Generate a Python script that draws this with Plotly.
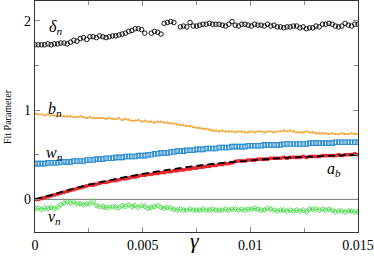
import numpy as np
import plotly.graph_objects as go

# gamma grid (101 samples from 0 to 0.015)
gamma = np.linspace(0, 0.015, 101)

delta_n = [1.73,1.73,1.73,1.73,1.74,1.73,1.74,1.74,1.75,1.75,
           1.74,1.76,1.78,1.77,1.80,1.81,1.79,1.82,1.82,1.81,
           1.83,1.82,1.81,1.82,1.83,1.83,1.84,1.85,1.86,1.88,
           1.89,1.91,1.91,1.90,1.86,None,1.86,1.88,1.87,1.85,
           1.97,1.98,1.99,1.98,None,1.93,1.94,1.93,1.98,1.94,
           1.94,1.95,1.96,1.96,1.97,1.96,1.96,1.96,1.95,1.94,
           1.96,1.99,1.95,1.94,1.96,1.96,1.95,1.94,1.96,1.95,
           1.95,1.94,1.96,1.94,1.95,1.93,1.93,1.92,1.93,1.93,
           1.94,1.94,1.92,1.93,1.91,1.92,1.92,1.94,1.93,1.96,
           1.96,1.97,1.96,1.94,1.93,1.94,1.97,1.95,1.94,1.96,
           1.96]

b_n = [0.96,0.95,0.95,0.94,0.95,0.94,0.94,0.93,0.94,0.93,
       0.93,0.93,0.92,0.92,0.93,0.92,0.91,0.92,0.91,0.91,
       0.91,0.91,0.90,0.91,0.90,0.90,0.91,0.89,0.90,0.89,
       0.88,0.88,0.89,0.87,0.88,0.87,0.87,0.86,0.87,0.87,
       0.86,0.86,0.85,0.85,0.84,0.83,0.83,0.82,0.82,0.81,
       0.80,0.80,0.79,0.79,0.78,0.77,0.77,0.76,0.77,0.76,
       0.76,0.76,0.75,0.76,0.76,0.75,0.75,0.76,0.75,0.76,
       0.76,0.75,0.76,0.76,0.75,0.76,0.76,0.77,0.76,0.77,
       0.76,0.75,0.75,0.75,0.76,0.75,0.75,0.74,0.74,0.74,
       0.74,0.73,0.74,0.73,0.73,0.74,0.73,0.73,0.74,0.73,
       0.73]

w_n = [0.40,0.40,0.40,0.40,0.41,0.41,0.41,0.41,0.42,0.42,
       0.42,0.42,0.43,0.43,0.43,0.43,0.44,0.44,0.44,0.45,
       0.45,0.45,0.46,0.46,0.46,0.47,0.47,0.47,0.48,0.48,
       0.48,0.48,0.49,0.49,0.49,0.50,0.50,0.51,0.51,0.52,
       0.52,0.52,0.53,0.53,0.54,0.54,0.54,0.55,0.55,0.55,
       0.56,0.56,0.56,0.57,0.57,0.57,0.57,0.58,0.58,0.58,
       0.58,0.59,0.59,0.59,0.59,0.59,0.60,0.60,0.60,0.60,
       0.60,0.61,0.61,0.61,0.61,0.61,0.61,0.62,0.62,0.62,
       0.62,0.62,0.62,0.62,0.62,0.63,0.63,0.63,0.63,0.63,
       0.63,0.63,0.63,0.64,0.64,0.64,0.64,0.64,0.64,0.64,
       0.64]

a_b = [0.00,0.00,0.01,0.02,0.03,0.04,0.05,0.06,0.07,0.08,
       0.09,0.10,0.11,0.12,0.13,0.14,0.15,0.16,0.16,0.17,
       0.18,0.19,0.19,0.20,0.21,0.21,0.22,0.23,0.23,0.24,
       0.25,0.25,0.26,0.27,0.27,0.28,0.28,0.29,0.29,0.30,
       0.30,0.31,0.31,0.32,0.32,0.33,0.33,0.34,0.34,0.35,
       0.35,0.36,0.36,0.37,0.37,0.38,0.38,0.39,0.39,0.40,
       0.40,0.41,0.425,0.43,0.43,0.43,0.44,0.44,0.44,0.45,
       0.45,0.45,0.45,0.46,0.46,0.46,0.46,0.47,0.46,0.47,
       0.47,0.47,0.47,0.48,0.47,0.48,0.48,0.48,0.48,0.49,
       0.49,0.49,0.49,0.49,0.50,0.49,0.50,0.50,0.50,0.51,
       0.50]

nu_n = [-0.10,-0.10,-0.11,-0.10,-0.10,-0.09,-0.10,-0.09,-0.06,-0.04,
        -0.03,-0.04,-0.03,-0.05,-0.05,-0.06,-0.05,-0.05,-0.02,-0.07,
        -0.08,-0.08,-0.09,-0.09,-0.08,-0.09,-0.09,-0.07,-0.08,-0.06,
        -0.08,-0.07,-0.09,-0.07,-0.08,-0.10,-0.09,-0.08,-0.07,-0.09,
        -0.10,-0.09,-0.10,-0.11,-0.12,-0.11,-0.12,-0.12,-0.11,-0.12,
        -0.12,-0.12,-0.11,-0.12,-0.12,-0.11,-0.12,-0.12,-0.12,-0.11,
        -0.12,-0.11,-0.11,-0.12,-0.11,-0.12,-0.11,-0.11,-0.10,-0.11,
        -0.12,-0.12,-0.10,-0.11,-0.12,-0.13,-0.12,-0.12,-0.13,-0.12,
        -0.13,-0.12,-0.13,-0.12,-0.14,-0.11,-0.11,-0.11,-0.12,-0.11,
        -0.12,-0.11,-0.12,-0.14,-0.13,-0.13,-0.14,-0.13,-0.13,-0.14,
        -0.14]

# smooth fit of a_b (dashed)
fit_x = [0.0,0.001,0.002,0.003,0.004,0.005,0.006,0.007,0.008,0.009,0.010,0.011,0.012,0.013,0.014,0.015]
fit_y = [0.0,0.065,0.135,0.19,0.24,0.285,0.325,0.36,0.39,0.415,0.435,0.455,0.47,0.48,0.49,0.50]

x_tickvals = [0, 0.005, 0.01, 0.015]
x_ticktext = ["0", "0.005", "0.01", "0.015"]
y_tickvals = [0, 1, 2]
y_ticktext = ["0", "1", "2"]

SERIF = "Liberation Serif"
fig = go.Figure()

fig.add_shape(type="line", xref="paper", yref="y", x0=0, x1=1, y0=0, y1=0,
              line=dict(color="#777777", width=1), layer="below")

fig.add_trace(go.Scatter(x=gamma, y=delta_n, mode="markers",
                         marker=dict(symbol="circle-open", size=4.5, color="black", line=dict(width=0.9))))
fig.add_trace(go.Scatter(x=gamma, y=b_n, mode="lines+markers",
                         line=dict(color="#F2A93B", width=1),
                         marker=dict(symbol="triangle-up", size=3.5, color="#F2A93B")))
fig.add_trace(go.Scatter(x=gamma, y=w_n, mode="markers",
                         marker=dict(symbol="square-open", size=4.5, color="#2F8FD2", line=dict(width=1.1))))
fig.add_trace(go.Scatter(x=gamma, y=a_b, mode="lines+markers",
                         line=dict(color="#E8282D", width=2.5),
                         marker=dict(symbol="square", size=3.5, color="#E8282D")))
fig.add_trace(go.Scatter(x=fit_x, y=fit_y, mode="lines", line_shape="spline",
                         line=dict(color="black", width=1.8, dash="7px,4px")))
fig.add_trace(go.Scatter(x=gamma, y=nu_n, mode="lines+markers",
                         line=dict(color="#44DD44", width=0.8),
                         marker=dict(symbol="diamond-open", size=4, color="#44DD44", line=dict(width=1))))

labels = [
    (0.00093, 1.92, "<i>δ<sub>n</sub></i>"),
    (0.00093, 1.01, "<i>b<sub>n</sub></i>"),
    (0.00090, 0.51, "<i>w<sub>n</sub></i>"),
    (0.00090, -0.20, "<i>ν<sub>n</sub></i>"),
    (0.01387, 0.33, "<i>a<sub>b</sub></i>"),
]
for x, y, t in labels:
    fig.add_annotation(x=x, y=y, text=t, showarrow=False,
                       font=dict(family=SERIF, size=16, color="black"))

# axis titles as free annotations
fig.add_annotation(xref="paper", yref="paper", x=0.495, y=-0.035, yanchor="middle",
                   text="<i>γ</i>", showarrow=False,
                   font=dict(family=SERIF, size=22, color="black"))
fig.add_annotation(xref="paper", yref="paper", x=-0.085, y=0.5, xanchor="center",
                   text="Fit Parameter", textangle=-90, showarrow=False,
                   font=dict(family=SERIF, size=10, color="black"))

axis_common = dict(showline=True, linecolor="#333333", linewidth=1.2, mirror="ticks",
                   ticks="inside", tickcolor="#888888", ticklen=5, showgrid=False,
                   zeroline=False, automargin=False,
                   tickfont=dict(family=SERIF, size=14, color="black"))

fig.update_xaxes(range=[0, 0.015], tickvals=x_tickvals, ticktext=x_ticktext,
                 minor=dict(tickvals=[0.0025, 0.0075, 0.0125], ticks="inside", ticklen=4, tickcolor="#888888"),
                 **axis_common)
fig.update_yaxes(range=[-0.365, 2.22], tickvals=y_tickvals, ticktext=y_ticktext,
                 minor=dict(tickvals=[-0.5, 0.5, 1.5], ticks="inside", ticklen=4, tickcolor="#888888"),
                 **axis_common)

fig.update_layout(width=374, height=258, showlegend=False,
                  margin=dict(l=35, r=16, t=1, b=26),
                  plot_bgcolor="white", paper_bgcolor="white")

fig.write_html("out.html", config={"displayModeBar": False},
               post_script="document.body.style.margin='0';")
